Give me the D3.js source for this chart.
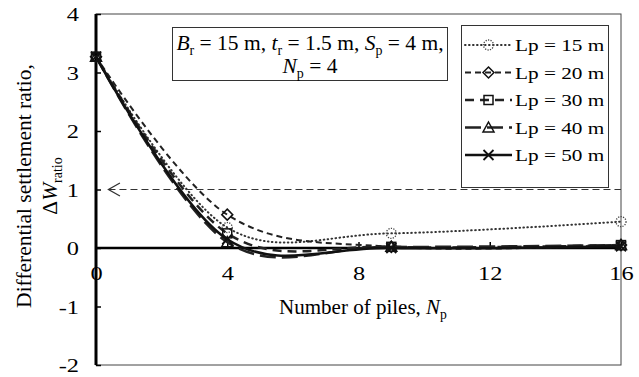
<!DOCTYPE html>
<html>
<head>
<meta charset="utf-8">
<script src="https://cdn.jsdelivr.net/npm/d3@7"></script>
<style>
  html, body { margin: 0; padding: 0; background: #fff; }
  svg { display: block; font-family: "Liberation Serif", "Times New Roman", serif; }
</style>
</head>
<body>
<svg id="chart" width="639" height="377"></svg>
<script>
// Number of piles under the raft
const pileCounts = [0, 4, 9, 16];

// Differential settlement ratio for each pile length
const lp15 = [3.27, 0.35, 0.25, 0.45];
const lp20 = [3.27, 0.57, 0.02, 0.05];
const lp30 = [3.27, 0.25, 0.02, 0.05];
const lp40 = [3.27, 0.10, 0.02, 0.05];
const lp50 = [3.27, 0.15, 0.00, 0.03];

const seriesNames = ["Lp = 15 m", "Lp = 20 m", "Lp = 30 m", "Lp = 40 m", "Lp = 50 m"];
const seriesValues = [lp15, lp20, lp30, lp40, lp50];

const xTicks = [0, 4, 8, 12, 16];
const yTicks = [-2, -1, 0, 1, 2, 3, 4];
const limitRatio = 1;

// Line / marker appearance per series
const looks = [
  { dash: "0.6,3.4", width: 2,   cap: "round", color: "#333", marker: "circle"   },
  { dash: "6,4",     width: 2,   cap: "butt",  color: "#222", marker: "diamond"  },
  { dash: "9,6",     width: 2.5, cap: "butt",  color: "#222", marker: "square"   },
  { dash: "16,6",    width: 2.5, cap: "butt",  color: "#222", marker: "triangle" },
  { dash: null,      width: 2.5, cap: "butt",  color: "#111", marker: "cross"    }
];

const svg = d3.select("#chart");
const x = d3.scaleLinear().domain([0, 16]).range([96, 621]);
const y = d3.scaleLinear().domain([-2, 4]).range([365, 14]);

// Plot frame
svg.append("rect")
  .attr("x", x(0)).attr("y", y(4))
  .attr("width", x(16) - x(0)).attr("height", y(-2) - y(4))
  .attr("fill", "none").attr("stroke", "#444").attr("stroke-width", 1);

// Limit line with arrow at ΔW_ratio = 1
svg.append("line")
  .attr("x1", x(0.38)).attr("x2", x(16))
  .attr("y1", y(limitRatio)).attr("y2", y(limitRatio))
  .attr("stroke", "#333").attr("stroke-width", 1.2).attr("stroke-dasharray", "7,4");
svg.append("path")
  .attr("d", `M${x(0.73)},${y(limitRatio) - 6.5} L${x(0.38)},${y(limitRatio)} L${x(0.73)},${y(limitRatio) + 6.5}`)
  .attr("fill", "none").attr("stroke", "#333").attr("stroke-width", 1.3);

// Y axis (ticks point into the plot)
const yAxis = svg.append("g")
  .attr("transform", `translate(${x(0)},0)`)
  .call(d3.axisLeft(y).tickValues(yTicks).tickSizeInner(-5).tickSizeOuter(0)
    .tickFormat(d => String(d)));
yAxis.select(".domain").remove();
yAxis.selectAll(".tick line").attr("stroke", "#000").attr("stroke-width", 1.5);
yAxis.selectAll(".tick text")
  .attr("x", 0).attr("dy", "0.34em")
  .attr("transform", "translate(-17,0) scale(1.25,1)")
  .attr("text-anchor", "end")
  .attr("font-family", "Liberation Serif, serif")
  .attr("font-size", 19.5).attr("fill", "#000");

// X axis drawn along the zero line
const xAxis = svg.append("g")
  .attr("transform", `translate(0,${y(0)})`)
  .call(d3.axisBottom(x).tickValues(xTicks).tickSizeInner(-6).tickSizeOuter(0)
    .tickFormat(d => String(d)));
xAxis.select(".domain").remove();
xAxis.selectAll(".tick line").attr("stroke", "#000").attr("stroke-width", 1.5)
  .attr("opacity", d => d === 0 ? 0 : 1);
xAxis.selectAll(".tick text")
  .attr("y", 0).attr("dy", 0)
  .attr("transform", "translate(0,32) scale(1.25,1)")
  .attr("text-anchor", "middle")
  .attr("font-family", "Liberation Serif, serif")
  .attr("font-size", 19.5).attr("fill", "#000");

// Zero line and left axis
svg.append("line")
  .attr("x1", x(0)).attr("x2", x(16)).attr("y1", y(0)).attr("y2", y(0))
  .attr("stroke", "#000").attr("stroke-width", 2.5);
svg.append("line")
  .attr("x1", x(0)).attr("x2", x(0)).attr("y1", y(4)).attr("y2", y(-2))
  .attr("stroke", "#000").attr("stroke-width", 3);

// Marker shapes
function drawMarker(g, kind) {
  if (kind === "circle") {
    g.append("circle").attr("r", 5).attr("fill", "none")
      .attr("stroke", "#444").attr("stroke-width", 1.3).attr("stroke-dasharray", "1.2,1.3");
  } else if (kind === "diamond") {
    g.append("path").attr("d", "M0,-5.5L5.5,0L0,5.5L-5.5,0Z").attr("fill", "none")
      .attr("stroke", "#111").attr("stroke-width", 1.5);
  } else if (kind === "square") {
    g.append("rect").attr("x", -4.5).attr("y", -4.5).attr("width", 9).attr("height", 9)
      .attr("fill", "none").attr("stroke", "#111").attr("stroke-width", 1.5);
  } else if (kind === "triangle") {
    g.append("path").attr("d", "M0,-5.5L5.5,4.5L-5.5,4.5Z").attr("fill", "none")
      .attr("stroke", "#111").attr("stroke-width", 1.5);
  } else if (kind === "cross") {
    g.append("path").attr("d", "M-5,-5L5,5M-5,5L5,-5").attr("fill", "none")
      .attr("stroke", "#111").attr("stroke-width", 1.8);
  }
}

// Smoothed series curves
const line = d3.line()
  .x((d, i) => x(pileCounts[i]))
  .y(d => y(d))
  .curve(d3.curveCardinal.tension(0));

seriesValues.forEach((vals, s) => {
  const lk = looks[s];
  const g = svg.append("g");
  g.append("path").datum(vals)
    .attr("d", line)
    .attr("fill", "none").attr("stroke", lk.color).attr("stroke-width", lk.width)
    .attr("stroke-linecap", lk.cap)
    .attr("stroke-dasharray", lk.dash);
  vals.forEach((v, i) => {
    const m = g.append("g").attr("transform", `translate(${x(pileCounts[i])},${y(v)})`);
    drawMarker(m, lk.marker);
  });
});

// Rich text helper: pieces are [text, "i" italic | "s" subscript | "is" italic subscript | ""]
function richText(sel, pieces, size) {
  let shifted = false;
  pieces.forEach(([t, st]) => {
    const ts = sel.append("tspan").text(t);
    const sub = st.includes("s");
    if (st.includes("i")) ts.attr("font-style", "italic");
    if (sub) ts.attr("font-size", size * 0.65);
    if (sub && !shifted) { ts.attr("dy", size * 0.22); shifted = true; }
    else if (!sub && shifted) { ts.attr("dy", -size * 0.22); shifted = false; }
  });
}

// Parameter box
const infoSize = 21.5;
svg.append("rect")
  .attr("x", 172.5).attr("y", 27.5).attr("width", 275).attr("height", 53)
  .attr("fill", "#fff").attr("stroke", "#333").attr("stroke-width", 1);
const info1 = svg.append("text").attr("x", 310).attr("y", 50)
  .attr("text-anchor", "middle").attr("font-size", infoSize);
richText(info1, [["B", "i"], ["r", "s"], [" = 15 m, ", ""], ["t", "i"], ["r", "s"],
  [" = 1.5 m, ", ""], ["S", "i"], ["p", "s"], [" = 4 m,", ""]], infoSize);
const info2 = svg.append("text").attr("x", 310).attr("y", 73)
  .attr("text-anchor", "middle").attr("font-size", infoSize);
richText(info2, [["N", "i"], ["p", "s"], [" = 4", ""]], infoSize);

// Legend
const legend = svg.append("g");
legend.append("rect")
  .attr("x", 461.5).attr("y", 25.5).attr("width", 147).attr("height", 162)
  .attr("fill", "#fff").attr("stroke", "#333").attr("stroke-width", 1);
seriesNames.forEach((name, s) => {
  const lk = looks[s];
  const cy = 45 + s * 27.5;
  legend.append("line")
    .attr("x1", 465).attr("x2", 512).attr("y1", cy).attr("y2", cy)
    .attr("stroke", lk.color).attr("stroke-width", lk.width)
    .attr("stroke-linecap", lk.cap).attr("stroke-dasharray", lk.dash);
  drawMarker(legend.append("g").attr("transform", `translate(488.5,${cy})`), lk.marker);
  legend.append("text")
    .attr("transform", `translate(515,${cy + 6}) scale(1.25,1)`)
    .attr("font-size", 17).text(name);
});

// Axis titles
const xt = svg.append("text").attr("x", 363).attr("y", 314)
  .attr("text-anchor", "middle").attr("font-size", 21);
richText(xt, [["Number of piles, ", ""], ["N", "i"], ["p", "s"]], 21);

const yt = svg.append("g").attr("transform", "translate(31,186) rotate(-90)");
yt.append("text").attr("text-anchor", "middle").attr("font-size", 21.5)
  .text("Differential settlement ratio,");
const yt2 = yt.append("text").attr("y", 26).attr("text-anchor", "middle").attr("font-size", 21.5);
richText(yt2, [["Δ", ""], ["W", "i"], ["ratio", "s"]], 21.5);
</script>
</body>
</html>
